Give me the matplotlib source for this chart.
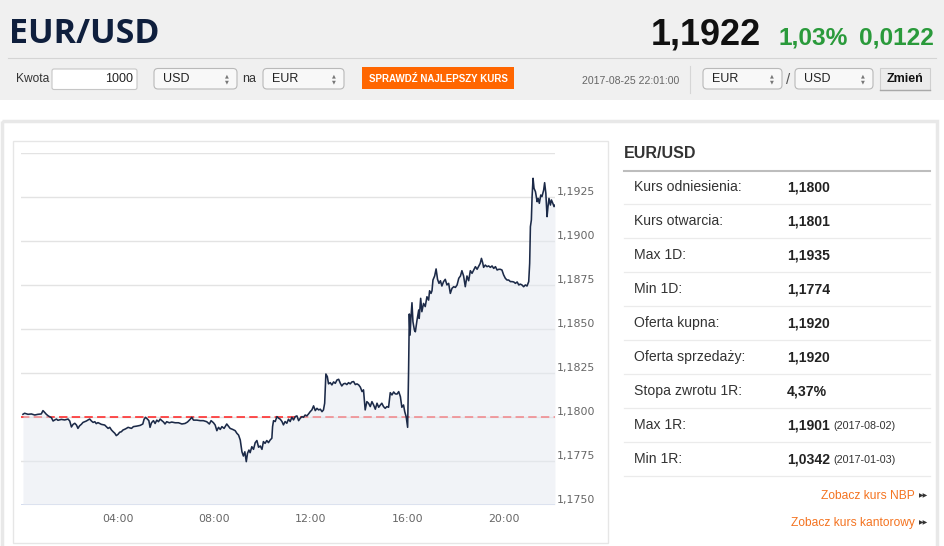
import matplotlib
matplotlib.use("Agg")
import matplotlib.pyplot as plt
from matplotlib.patches import Rectangle, FancyBboxPatch

# intraday EUR/USD, hours since midnight vs rate
HOURS = [
    0.06, 0.13, 0.27, 0.41, 0.55, 0.68, 0.82, 0.89, 0.96, 1.03, 1.10, 1.17, 1.24, 1.31,
    1.38, 1.45, 1.51, 1.65, 1.79, 1.93, 2.00, 2.07, 2.14, 2.21, 2.28, 2.34, 2.41, 2.48,
    2.55, 2.62, 2.69, 2.76, 2.83, 2.90, 2.97, 3.04, 3.10, 3.17, 3.31, 3.45, 3.59, 3.66,
    3.73, 3.80, 3.87, 3.93, 4.00, 4.07, 4.14, 4.21, 4.28, 4.35, 4.42, 4.56,
    4.64, 4.78, 4.92, 5.03, 5.08, 5.14, 5.22, 5.28, 5.33, 5.39, 5.47, 5.54, 5.61, 5.68,
    5.75, 5.82, 5.89, 5.95, 6.02, 6.13, 6.23, 6.37, 6.51, 6.65, 6.78, 6.88, 6.99, 7.06,
    7.13, 7.27, 7.41, 7.54, 7.68, 7.79, 7.86, 7.96, 8.03, 8.10, 8.17, 8.24, 8.31, 8.40,
    8.51, 8.58, 8.65, 8.76, 8.86, 8.93, 9.00, 9.07, 9.14, 9.20, 9.26, 9.32, 9.37, 9.43,
    9.48, 9.55, 9.62,
    9.69, 9.76, 9.83, 9.90, 9.97, 10.03, 10.10, 10.17, 10.24, 10.31, 10.38, 10.41, 10.45,
    10.52, 10.59, 10.66, 10.73, 10.80, 10.86, 10.93, 11.00, 11.07, 11.14, 11.21, 11.28,
    11.35, 11.42, 11.49, 11.56, 11.63, 11.69, 11.76, 11.83, 11.90, 11.97, 12.04, 12.11,
    12.18, 12.25, 12.32, 12.39, 12.46, 12.52, 12.57, 12.62, 12.68, 12.73, 12.80, 12.87,
    12.94, 13.01, 13.08, 13.15, 13.22, 13.28, 13.35, 13.42, 13.49, 13.56, 13.63, 13.70,
    13.77, 13.84, 13.91, 13.98, 14.05, 14.12, 14.18, 14.25, 14.32, 14.39, 14.46, 14.53,
    14.60, 14.67, 14.74, 14.81, 14.88, 14.94, 15.01, 15.08, 15.15, 15.22, 15.29, 15.36,
    15.43, 15.50,
    15.57, 15.64, 15.71, 15.77, 15.84, 15.89, 15.95, 16.01, 16.05, 16.08, 16.11, 16.15,
    16.19, 16.23, 16.29, 16.33, 16.40, 16.47, 16.49, 16.55, 16.60, 16.67, 16.74, 16.81,
    16.88, 16.92, 16.98, 17.02, 17.06, 17.13, 17.19, 17.25, 17.31, 17.37, 17.43, 17.50,
    17.57, 17.64, 17.71, 17.78, 17.85, 17.92, 17.99, 18.06, 18.13, 18.20, 18.26, 18.33,
    18.40, 18.47, 18.54, 18.61, 18.68, 18.75, 18.82, 18.89, 18.96, 19.02, 19.07, 19.12,
    19.16, 19.23, 19.30, 19.37, 19.44, 19.51, 19.58, 19.65, 19.72, 19.79, 19.85, 19.92,
    19.99, 20.06, 20.13, 20.20, 20.27, 20.34, 20.41, 20.48, 20.55, 20.62, 20.68, 20.75,
    20.82, 20.89, 20.96, 21.03, 21.07, 21.10, 21.14, 21.17, 21.21, 21.25, 21.31, 21.38,
    21.42, 21.47, 21.53, 21.58, 21.65, 21.69, 21.74, 21.79, 21.83, 21.87, 21.93, 21.97,
    22.03, 22.08, 22.12,
]
RATES = [
    1.18013, 1.18019, 1.18013, 1.18015, 1.18009, 1.18013, 1.18015, 1.18034, 1.18024,
    1.18013, 1.18005, 1.17999, 1.17994, 1.17975, 1.17981, 1.17986, 1.17979, 1.17984,
    1.17981, 1.17986, 1.17975, 1.17941, 1.17956, 1.17962, 1.17952, 1.17933, 1.17948,
    1.17956, 1.17967, 1.17971, 1.17975, 1.17981, 1.17986, 1.17975, 1.17967, 1.17971,
    1.17960, 1.17966, 1.17956, 1.17952, 1.17933, 1.17939, 1.17924, 1.17914, 1.17905,
    1.17892, 1.17899, 1.17911, 1.17914, 1.17924, 1.17928, 1.17933, 1.17939, 1.17933,
    1.17943, 1.17946, 1.17950, 1.17958, 1.17984, 1.17996, 1.17986, 1.17977, 1.17939,
    1.17965, 1.17977, 1.17961, 1.17980, 1.17971, 1.17986, 1.17977, 1.17969, 1.17958,
    1.17971, 1.17965, 1.17969, 1.17965, 1.17965, 1.17958, 1.17961, 1.17969, 1.17984,
    1.17996, 1.17980, 1.17980, 1.17977, 1.17977, 1.17971, 1.17958, 1.17977, 1.17965,
    1.17952, 1.17920, 1.17939, 1.17927, 1.17943, 1.17933, 1.17958, 1.17946, 1.17933,
    1.17927, 1.17920, 1.17905, 1.17895, 1.17867, 1.17800, 1.17776, 1.17800, 1.17744,
    1.17791, 1.17810, 1.17795, 1.17829, 1.17814,
    1.17852, 1.17864, 1.17826, 1.17833, 1.17814, 1.17858, 1.17848, 1.17864, 1.17852,
    1.17867, 1.17877, 1.17943, 1.17977, 1.17972, 1.18000, 1.17991, 1.17985, 1.17972,
    1.17953, 1.17972, 1.17962, 1.17985, 1.17972, 1.17996, 1.17981, 1.18000, 1.18004,
    1.17977, 1.17991, 1.18000, 1.17996, 1.18009, 1.18004, 1.18015, 1.18028, 1.18038,
    1.18061, 1.18034, 1.18047, 1.18038, 1.18042, 1.18028, 1.18038, 1.18076, 1.18242,
    1.18227, 1.18186, 1.18193, 1.18180, 1.18197, 1.18189, 1.18208, 1.18212, 1.18189,
    1.18174, 1.18186, 1.18189, 1.18182, 1.18193, 1.18186, 1.18197, 1.18199, 1.18182,
    1.18186, 1.18180, 1.18167, 1.18142, 1.18152, 1.18038, 1.18085, 1.18076, 1.18057,
    1.18085, 1.18066, 1.18042, 1.18076, 1.18053, 1.18066, 1.18076, 1.18057, 1.18047,
    1.18057, 1.18053, 1.18136, 1.18123, 1.18140, 1.18129,
    1.18128, 1.18142, 1.18113, 1.18053, 1.18066, 1.18028, 1.17999, 1.17939, 1.18265,
    1.18583, 1.18463, 1.18568, 1.18647, 1.18539, 1.18492, 1.18482, 1.18549, 1.18606,
    1.18558, 1.18672, 1.18596, 1.18643, 1.18625, 1.18681, 1.18662, 1.18715, 1.18700,
    1.18715, 1.18776, 1.18799, 1.18839, 1.18780, 1.18757, 1.18772, 1.18742, 1.18767,
    1.18780, 1.18748, 1.18757, 1.18700, 1.18729, 1.18738, 1.18734, 1.18748, 1.18786,
    1.18799, 1.18829, 1.18799, 1.18738, 1.18799, 1.18772, 1.18829, 1.18814, 1.18833,
    1.18852, 1.18837, 1.18856, 1.18871, 1.18899, 1.18875, 1.18848, 1.18861, 1.18852,
    1.18856, 1.18848, 1.18856, 1.18842, 1.18852, 1.18833, 1.18837, 1.18837, 1.18833,
    1.18805, 1.18786, 1.18776, 1.18776, 1.18767, 1.18767, 1.18765, 1.18757, 1.18765,
    1.18748, 1.18753, 1.18748, 1.18738, 1.18748, 1.18742, 1.18767, 1.18871, 1.19079,
    1.19117, 1.19250, 1.19354, 1.19297, 1.19278, 1.19221, 1.19240, 1.19212, 1.19259,
    1.19250, 1.19287, 1.19329, 1.19269, 1.19136, 1.19193, 1.19240, 1.19202, 1.19231,
    1.19212, 1.19193, 1.19202,
]

REF_RATE = 1.1800
Y_TICKS = [1.1750, 1.1775, 1.1800, 1.1825, 1.1850, 1.1875, 1.1900, 1.1925, 1.1950]
Y_LABELS = ["1,1750", "1,1775", "1,1800", "1,1825", "1,1850", "1,1875", "1,1900", "1,1925", ""]
X_TICKS = [4, 8, 12, 16, 20]
X_LABELS = ["04:00", "08:00", "12:00", "16:00", "20:00"]

PAIR = "EUR/USD"
LAST_RATE = "1,1922"
CHANGE_PCT = "1,03%"
CHANGE_ABS = "0,0122"
STAMP = "2017-08-25 22:01:00"
AMOUNT = "1000"
BUTTON = "SPRAWDŹ NAJLEPSZY KURS"

STAT_LABELS = ["Kurs odniesienia:", "Kurs otwarcia:", "Max 1D:", "Min 1D:", "Oferta kupna:",
               "Oferta sprzedaży:", "Stopa zwrotu 1R:", "Max 1R:", "Min 1R:"]
STAT_VALUES = ["1,1800", "1,1801", "1,1935", "1,1774", "1,1920", "1,1920", "4,37%",
               "1,1901", "1,0342"]
STAT_DATES = ["", "", "", "", "", "", "", "(2017-08-02)", "(2017-01-03)"]
LINKS = ["Zobacz kurs NBP", "Zobacz kurs kantorowy"]

W, H = 945, 546
SANS = ["Liberation Sans", "DejaVu Sans"]


def px(s):
    # css pixels -> points at dpi 100
    return s * 0.72


def select_box(ax, x0, x1, label):
    ax.add_patch(FancyBboxPatch((x0, 68.5), x1 - x0, 20.5,
                                boxstyle="round,pad=0,rounding_size=4",
                                fc="#f8f8f8", ec="#b9b9b9", lw=0.8))
    ax.text(x0 + 9, 78.5, label, fontsize=px(12.5), family=SANS, color="#222",
            va="center")
    ax.text(x1 - 10, 75.5, "\u25b2", fontsize=px(5), color="#777", ha="center", va="center")
    ax.text(x1 - 10, 81.5, "\u25bc", fontsize=px(5), color="#777", ha="center", va="center")


fig = plt.figure(figsize=(W / 100, H / 100), dpi=100)
fig.patch.set_facecolor("white")

bg = fig.add_axes([0, 0, 1, 1])
bg.set_xlim(0, W)
bg.set_ylim(H, 0)
bg.axis("off")

# header band
bg.add_patch(Rectangle((0, 0), W, 100, fc="#f0f0f0", lw=0))
bg.plot([8, 936], [58, 58], color="#d4d4d4", lw=0.8)
bg.text(9, 43, PAIR, fontsize=px(34), fontweight="bold", family=["Open Sans", "DejaVu Sans"],
        color="#0f1f3d", va="baseline")
bg.text(651, 44, LAST_RATE, fontsize=px(36), fontweight="bold", family=SANS,
        color="#111", va="baseline")
bg.text(778, 44, CHANGE_PCT, fontsize=px(24.5), fontweight="bold", family=SANS,
        color="#2a9a3b", va="baseline")
bg.text(934, 44, CHANGE_ABS, fontsize=px(24.5), fontweight="bold", family=SANS,
        color="#2a9a3b", va="baseline", ha="right")

# converter controls
bg.text(16, 79.5, "Kwota", fontsize=px(12), family=SANS, color="#333", va="center")
bg.add_patch(FancyBboxPatch((52, 69), 85, 20.5, boxstyle="round,pad=0,rounding_size=2",
                            fc="white", ec="#c6c6c6", lw=0.8))
bg.text(133, 79.5, AMOUNT, fontsize=px(12.5), family=SANS, color="#222",
        ha="right", va="center")
select_box(bg, 154, 237, "USD")
bg.text(242, 79.5, "na", fontsize=px(12.5), family=SANS, color="#333", va="center")
select_box(bg, 263, 344, "EUR")
bg.add_patch(Rectangle((362, 67), 152, 22, fc="#ff6600", lw=0))
bg.text(438, 78.5, BUTTON, fontsize=px(9.8), fontweight="bold", family=SANS,
        color="white", ha="center", va="center")
bg.text(582, 80.5, STAMP, fontsize=px(10.5), family=SANS, color="#666", va="center")
bg.plot([690, 690], [66, 93], color="#d6d6d6", lw=0.8)
select_box(bg, 703, 782, "EUR")
bg.text(788, 80, "/", fontsize=px(15), family=SANS, color="#555", ha="center", va="center")
select_box(bg, 795, 873, "USD")
bg.add_patch(Rectangle((880, 68), 50, 22, fc="#ececec", ec="#cfcfcf", lw=0.8))
bg.plot([880, 930], [90, 90], color="#a9a9a9", lw=1)
bg.text(905, 79.5, "Zmień", fontsize=px(12.5), fontweight="bold", family=SANS,
        color="#111", ha="center", va="center")

# content frames
bg.add_patch(Rectangle((1.5, 121), 935, 440, fill=False, ec="#e8e8e8", lw=2.5))
bg.add_patch(Rectangle((13, 141), 595, 402, fill=False, ec="#e6e6e6", lw=1))

# stats panel
bg.text(624, 154, PAIR, fontsize=px(16), fontweight="bold", family=SANS, color="#333",
        va="center")
bg.plot([624, 930], [170.5, 170.5], color="#bdbdbd", lw=1.5)
for i, (lab, val, dt) in enumerate(zip(STAT_LABELS, STAT_VALUES, STAT_DATES)):
    yc = 187 + 34 * i
    bg.text(634, yc, lab, fontsize=px(14), family=SANS, color="#333", va="center")
    bg.text(787, yc, val, fontsize=px(14), fontweight="bold", family=SANS, color="#222",
            va="center")
    if dt:
        bg.text(833, yc + 1, dt, fontsize=px(10.7), family=SANS, color="#333", va="center")
    bg.plot([624, 930], [204 + 34 * i, 204 + 34 * i], color="#ebebeb", lw=0.9)
for j, link in enumerate(LINKS):
    yl = 496 + 27 * j
    bg.text(915, yl, link, fontsize=px(12), family=SANS, color="#f47320",
            ha="right", va="center")
    bg.text(924, yl, "\u25b6\u25b6", fontsize=px(6), color="#333", ha="center", va="center")

# chart
ax = fig.add_axes([21.5 / W, 1 - 504.6 / H, 533.5 / W, 352 / H])
ax.set_facecolor("none")
ax.set_xlim(0, 22.12)
ax.set_ylim(Y_TICKS[0], Y_TICKS[-1])
for s in ax.spines.values():
    s.set_visible(False)
for yv in Y_TICKS[1:]:
    ax.axhline(yv, color="#e3e3e3", lw=1.0, zorder=0.5)
ax.axhline(Y_TICKS[0], color="#ccd6eb", lw=1.2, zorder=0.6)
ax.axhline(REF_RATE, color="#ff1e1e", lw=1.1, dashes=(5.5, 2.8), zorder=1)
ax.fill_between(HOURS, RATES, Y_TICKS[0], color="#e4e9f1", alpha=0.5, lw=0, zorder=2)
ax.plot(HOURS, RATES, color="#1c2a48", lw=1.15, zorder=3)

ax.set_xticks(X_TICKS)
ax.set_xticklabels(X_LABELS)
ax.yaxis.tick_right()
ax.set_yticks(Y_TICKS)
ax.set_yticklabels(Y_LABELS)
ax.tick_params(axis="x", length=0, pad=px(9), labelsize=px(11), labelcolor="#666")
ax.tick_params(axis="y", length=0, pad=px(2), labelsize=px(11), labelcolor="#666")
for lab in ax.get_yticklabels():
    lab.set_verticalalignment("bottom")
for lab in ax.get_xticklabels() + ax.get_yticklabels():
    lab.set_family("DejaVu Sans")

fig.savefig("out.png", dpi=100)
